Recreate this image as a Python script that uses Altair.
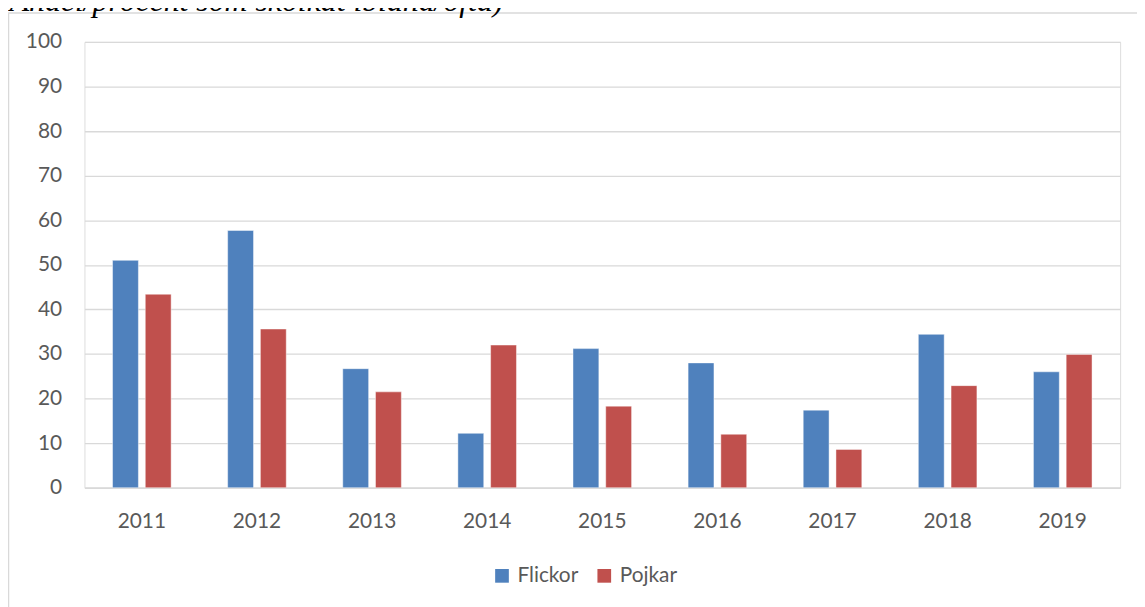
import altair as alt
import pandas as pd

years = ["2011", "2012", "2013", "2014", "2015", "2016", "2017", "2018", "2019"]
flickor = [51.0, 57.7, 26.7, 12.2, 31.2, 28.0, 17.4, 34.4, 26.0]
pojkar = [43.4, 35.6, 21.5, 32.0, 18.3, 12.0, 8.6, 22.9, 29.9]
groups = ["Flickor", "Pojkar"]
colors = ["#4F81BD", "#C0504D"]
y_ticks = [0, 10, 20, 30, 40, 50, 60, 70, 80, 90, 100]
title_text = "(Andel/procent som skolkat ibland/ofta)"

rows = []
for i, yr in enumerate(years):
    rows.append({"År": yr, "Kön": groups[0], "Andel": flickor[i]})
    rows.append({"År": yr, "Kön": groups[1], "Andel": pojkar[i]})
df = pd.DataFrame(rows)

FONT = "Lato"

bars = alt.Chart(df).mark_bar(stroke="white", strokeOpacity=0.45, strokeWidth=1).encode(
    x=alt.X("År:N", sort=years,
            scale=alt.Scale(paddingInner=0.491, paddingOuter=0.244),
            axis=alt.Axis(title=None, labelAngle=0, ticks=False, domain=True,
                          domainColor="#D9D9D9", domainWidth=1.3,
                          labelPadding=23, labelFontSize=21, labelColor="#595959",
                          labelFont=FONT, grid=False)),
    xOffset=alt.XOffset("Kön:N", sort=groups,
                        scale=alt.Scale(paddingInner=0.21, paddingOuter=0)),
    y=alt.Y("Andel:Q",
            scale=alt.Scale(domain=[0, 100], nice=False),
            axis=alt.Axis(title=None, values=y_ticks, ticks=False, domain=False,
                          grid=True, gridColor="#D9D9D9", gridWidth=1.3,
                          labelPadding=23, labelFontSize=21, labelColor="#595959",
                          labelFont=FONT)),
    color=alt.Color("Kön:N", sort=groups,
                    scale=alt.Scale(domain=groups, range=colors),
                    legend=alt.Legend(title=None, orient="none", direction="horizontal",
                                      legendX=410, legendY=527,
                                      symbolType="square", symbolSize=190,
                                      symbolStrokeWidth=0,
                                      labelFontSize=21, labelColor="#595959",
                                      labelFont=FONT, labelOffset=5,
                                      columnPadding=15)),
)

frame = alt.Chart(pd.DataFrame({"f": [0]})).mark_rect(
    fill=None, stroke="#D9D9D9", strokeWidth=1.5
).encode(
    x=alt.value(-76.5), x2=alt.value(1070),
    y=alt.value(-29), y2=alt.value(600),
)

title = alt.Chart(pd.DataFrame({"t": [title_text]})).mark_text(
    font="Liberation Serif", fontStyle="italic", fontSize=32, align="left",
    baseline="alphabetic", color="#000000"
).encode(
    text="t:N", x=alt.value(-86), y=alt.value(-31),
)

chart = alt.layer(frame, bars, title).properties(
    width=1043, height=449,
    padding={"left": 77, "top": 32, "right": 17, "bottom": 118},
    autosize=alt.AutoSizeParams(type="none"),
).configure_view(stroke=None).configure(background="white")

chart.save("out.html", embed_options={"renderer": "svg", "actions": False})
